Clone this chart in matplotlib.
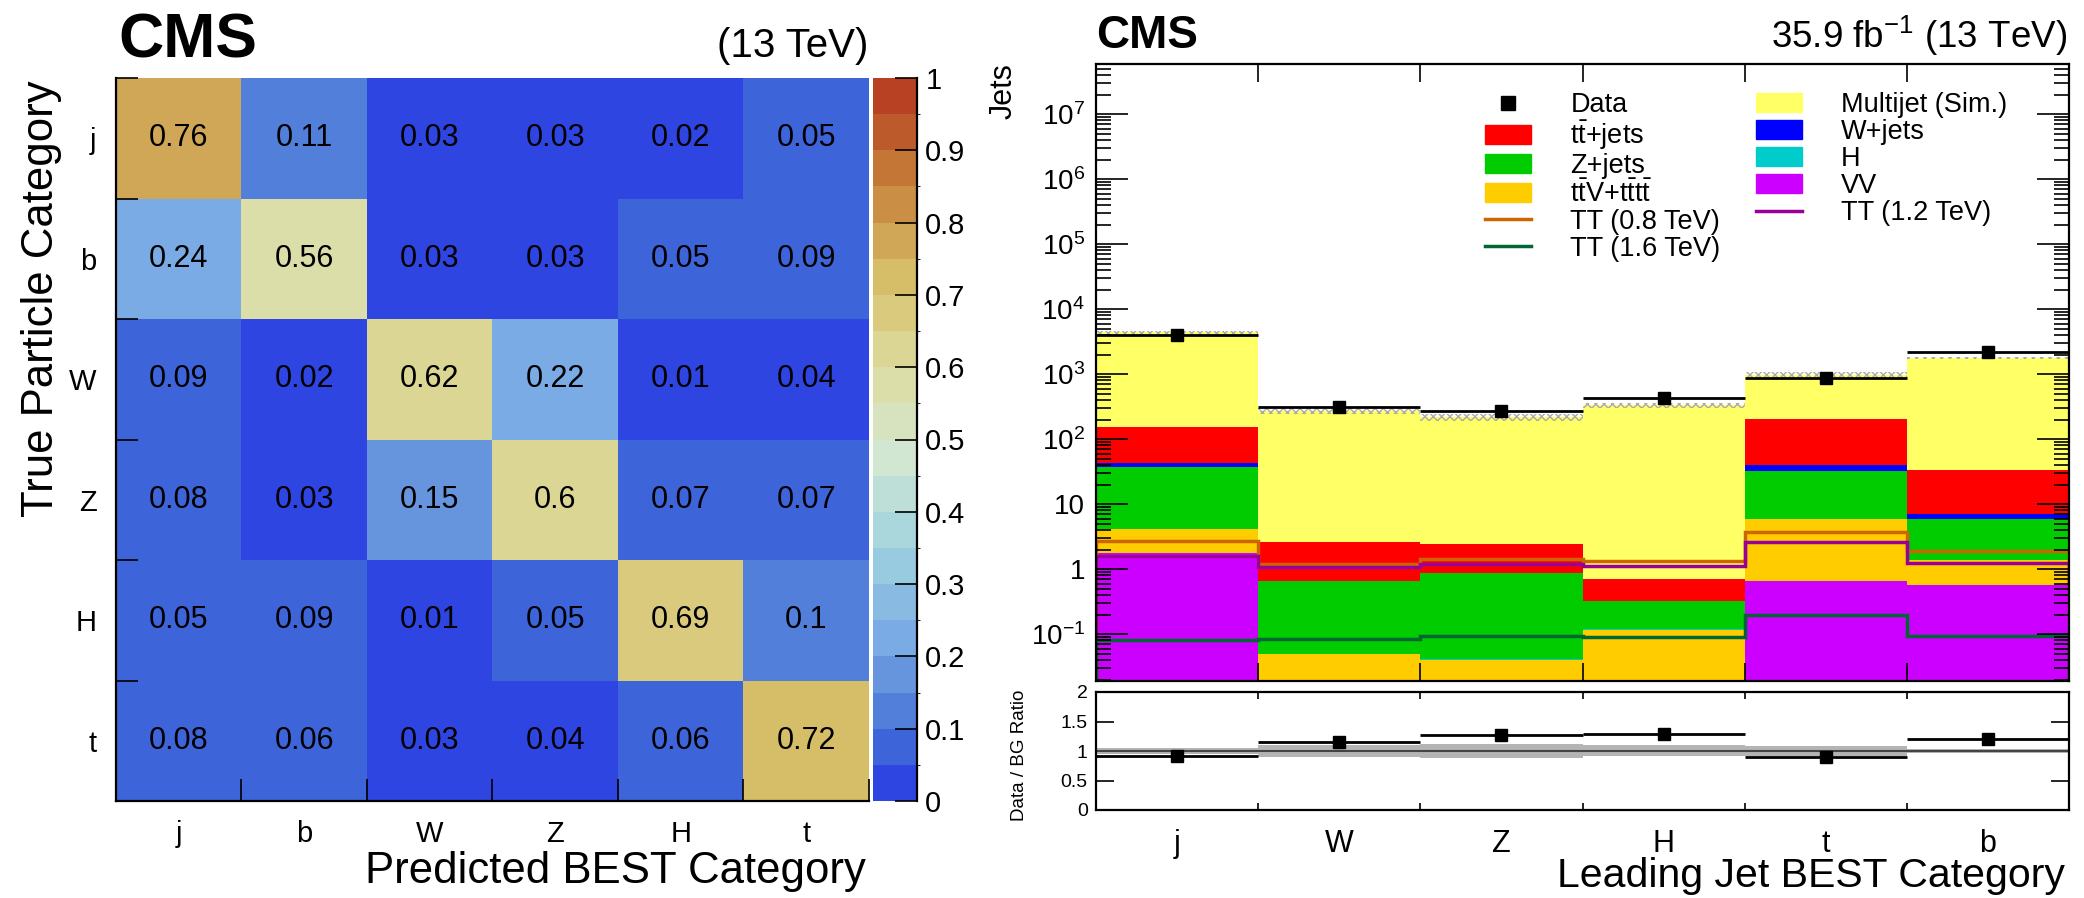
import numpy as np
import matplotlib
matplotlib.use('Agg')
import matplotlib.pyplot as plt
from matplotlib.colors import LinearSegmentedColormap, ListedColormap, BoundaryNorm
from matplotlib.patches import Patch
from matplotlib.lines import Line2D
from matplotlib.ticker import LogLocator, FuncFormatter, NullFormatter, FixedLocator

plt.rcParams['font.family'] = ['Liberation Sans', 'DejaVu Sans']
plt.rcParams['mathtext.fontset'] = 'custom'
plt.rcParams['mathtext.rm'] = 'Liberation Sans'
plt.rcParams['mathtext.it'] = 'Liberation Sans:italic'
plt.rcParams['mathtext.bf'] = 'Liberation Sans:bold'

# Confusion matrix: rows = true category, columns = predicted category
categories = ['j', 'b', 'W', 'Z', 'H', 't']
confusion = np.array([
    [0.76, 0.11, 0.03, 0.03, 0.02, 0.05],
    [0.24, 0.56, 0.03, 0.03, 0.05, 0.09],
    [0.09, 0.02, 0.62, 0.22, 0.01, 0.04],
    [0.08, 0.03, 0.15, 0.6, 0.07, 0.07],
    [0.05, 0.09, 0.01, 0.05, 0.69, 0.1],
    [0.08, 0.06, 0.03, 0.04, 0.06, 0.72],
])

# Leading jet category yields
jet_cats = ['j', 'W', 'Z', 'H', 't', 'b']
vv = [1.76, 0.005, 0.005, 0.005, 0.66, 0.57]
ttv = [2.34, 0.044, 0.035, 0.112, 5.14, 0.82]
higgs = [0.01, 0.001, 0.001, 0.001, 0.01, 0.01]
zjets = [32.9, 0.616, 0.825, 0.208, 26.2, 4.51]
wjets = [6.0, 0.001, 0.001, 0.001, 8.0, 1.1]
ttjets = [112, 1.94, 1.57, 0.39, 165, 26]
multijet = [4215, 272, 212.6, 330, 770, 1767]
data = [3990, 316, 273, 426, 868, 2178]
tt08 = [2.73, 1.22, 1.43, 1.31, 3.7, 1.9]
tt12 = [1.57, 1.09, 1.22, 1.12, 2.6, 1.24]
tt16 = [0.082, 0.085, 0.092, 0.09, 0.195, 0.092]
unc_lo = [0.95, 0.90, 0.886, 0.914, 0.914, 0.965]
unc_hi = [1.046, 1.10, 1.126, 1.10, 1.09, 1.035]

fig = plt.figure(figsize=(20.84, 8.98), dpi=100)
W, H = 2084.0, 898.0


def box(x0, y0, x1, y1):
    return [x0 / W, 1 - y1 / H, (x1 - x0) / W, (y1 - y0) / H]


# ---------------- left: confusion matrix ----------------
stops = np.array([
    [31, 40, 234], [71, 117, 214], [123, 171, 228], [160, 211, 222],
    [210, 231, 210], [222, 220, 160], [214, 190, 105], [199, 132, 60],
    [183, 65, 34]]) / 255.0
palette = LinearSegmentedColormap.from_list('lighttemp', stops)
levels = np.arange(21) / 20
cmap = ListedColormap(palette(levels[1:]))
norm = BoundaryNorm(levels, cmap.N)

ax1 = fig.add_axes(box(116, 78, 869, 801))
mesh = ax1.pcolormesh(np.arange(7), np.arange(7), confusion, cmap=cmap, norm=norm)
ax1.set_xlim(0, 6)
ax1.set_ylim(6, 0)
for i in range(6):
    for j in range(6):
        ax1.text(j + 0.5, i + 0.5, '%g' % confusion[i, j], ha='center', va='center',
                 fontsize=22, color='black')
ax1.set_xticks(np.arange(7))
ax1.set_yticks(np.arange(7))
ax1.set_xticklabels([])
ax1.set_yticklabels([])
ax1.set_xticks(np.arange(6) + 0.5, minor=True)
ax1.set_yticks(np.arange(6) + 0.5, minor=True)
ax1.set_xticklabels(categories, minor=True, fontsize=21)
ax1.set_yticklabels(categories, minor=True, fontsize=21)
ax1.tick_params(which='major', direction='in', length=16, width=1.2)
ax1.tick_params(which='minor', length=0, pad=14)
ax1.spines['top'].set_visible(False)
ax1.spines['right'].set_visible(False)
ax1.spines['left'].set_linewidth(1.6)
ax1.spines['bottom'].set_linewidth(1.6)

cax = fig.add_axes(box(873, 78, 917, 801))
cbar = fig.colorbar(mesh, cax=cax, ticks=np.arange(11) / 10)
cbar.outline.set_visible(False)
cax.set_yticklabels(['%g' % t for t in np.arange(11) / 10])
cax.tick_params(direction='in', length=16, width=1.2, labelsize=21, pad=6)
cax.plot([1, 1], [0, 1], transform=cax.transAxes, color='black', lw=1.6, clip_on=False)

fig.text(118 / W, 1 - 58 / H, 'CMS', fontsize=45, fontweight='bold', ha='left', va='baseline')
fig.text(868 / W, 1 - 57 / H, '(13 TeV)', fontsize=29, ha='right', va='baseline')
fig.text(42 / W, 1 - 80 / H, 'True Particle Category', fontsize=31.5, rotation=90,
         ha='center', va='top')
fig.text(866 / W, 1 - 883 / H, 'Predicted BEST Category', fontsize=31.5, ha='right',
         va='baseline')

# ---------------- right: stacked yields + ratio ----------------
x = np.arange(6)
edges = np.arange(7)
ax2 = fig.add_axes(box(1096, 64, 2069, 681))
ax3 = fig.add_axes(box(1096, 692, 2069, 810))

stack = [
    (vv, '#cc00ff'), (ttv, '#ffcc00'), (higgs, '#00cccc'), (zjets, '#00cc00'),
    (wjets, '#0000ff'), (ttjets, '#ff0000'), (multijet, '#ffff66'),
]
bottom = np.zeros(6)
for vals, col in stack:
    ax2.bar(x, vals, bottom=bottom, width=1.0, align='edge', color=col, linewidth=0)
    bottom = bottom + np.array(vals)
total = bottom

ax2.stairs(tt08, edges, color='#cc6600', lw=2.5)
ax2.stairs(tt12, edges, color='#990099', lw=2.5)
ax2.stairs(tt16, edges, color='#006633', lw=2.5)

lo = total * np.array(unc_lo)
hi = total * np.array(unc_hi)
ax2.bar(x, hi - lo, bottom=lo, width=1.0, align='edge', fill=False, hatch='xxxx',
        edgecolor='#aaaaaa', linewidth=0)

data = np.array(data, dtype=float)
ax2.errorbar(x + 0.5, data, xerr=0.5, yerr=np.sqrt(data), fmt='s', color='black',
             ms=9, elinewidth=2, capsize=0)

ax2.set_yscale('log')
ax2.set_xlim(0, 6)
ax2.set_ylim(0.019, 5.9e7)


def log_label(v, pos):
    e = int(round(np.log10(v)))
    if e == 0:
        return '1'
    if e == 1:
        return '10'
    return r'$10^{%d}$' % e


ax2.yaxis.set_major_locator(FixedLocator([10.0 ** e for e in range(-1, 8)]))
ax2.yaxis.set_major_formatter(FuncFormatter(log_label))
ax2.yaxis.set_minor_locator(LogLocator(base=10, subs=np.arange(2, 10), numticks=30))
ax2.yaxis.set_minor_formatter(NullFormatter())
ax2.set_xticks(edges)
ax2.set_xticklabels([])
ax2.tick_params(axis='y', which='major', direction='in', length=23, width=1.2,
                right=True, labelsize=20, pad=8)
ax2.tick_params(axis='y', which='minor', direction='in', length=11, width=1.2, right=True)
ax2.tick_params(axis='x', which='major', direction='in', length=13, width=1.2, top=True)
for s in ax2.spines.values():
    s.set_linewidth(1.6)

handles = [
    Line2D([], [], marker='s', color='black', ls='none', ms=10),
    Patch(color='#ff0000'), Patch(color='#00cc00'), Patch(color='#ffcc00'),
    Line2D([], [], color='#cc6600', lw=2.5), Line2D([], [], color='#006633', lw=2.5),
    Patch(color='#ffff66'), Patch(color='#0000ff'), Patch(color='#00cccc'),
    Patch(color='#cc00ff'), Line2D([], [], color='#990099', lw=2.5),
]
labels = [
    'Data', r't$\mathrm{\bar{t}}$+jets', 'Z+jets',
    r't$\mathrm{\bar{t}}$V+t$\mathrm{\bar{t}}$t$\mathrm{\bar{t}}$',
    'TT (0.8 TeV)', 'TT (1.6 TeV)',
    'Multijet (Sim.)', 'W+jets', 'H', 'VV', 'TT (1.2 TeV)',
]
ax2.legend(handles, labels, ncol=2, loc='upper left', bbox_to_anchor=(1485 / W, 1 - 92 / H),
           bbox_transform=fig.transFigure, frameon=False, fontsize=19.5, borderpad=0,
           borderaxespad=0, handlelength=1.7, handleheight=0.7, handletextpad=1.45,
           labelspacing=0.04, columnspacing=1.3)

# ratio panel
ratio = data / total
ax3.bar(x, np.array(unc_hi) - np.array(unc_lo), bottom=unc_lo, width=1.0, align='edge',
        color='#b4b4b4', linewidth=0)
ax3.axhline(1.0, color='#444444', lw=1.5)
ax3.errorbar(x + 0.5, ratio, xerr=0.5, yerr=np.sqrt(data) / total, fmt='s',
             color='black', ms=9, elinewidth=2, capsize=0)
ax3.set_xlim(0, 6)
ax3.set_ylim(0, 2)
ax3.set_yticks([0, 0.5, 1, 1.5, 2])
ax3.set_yticklabels(['0', '0.5', '1', '1.5', '2'])
ax3.set_xticks(edges)
ax3.set_xticklabels([])
ax3.set_xticks(x + 0.5, minor=True)
ax3.set_xticklabels(jet_cats, minor=True, fontsize=22)
ax3.tick_params(axis='x', which='minor', length=0, pad=14)
ax3.tick_params(axis='x', which='major', direction='in', length=5, width=1.2, top=True)
ax3.tick_params(axis='y', direction='in', length=13, width=1.2, right=True, labelsize=14,
                pad=6)
for s in ax3.spines.values():
    s.set_linewidth(1.6)

fig.text(1096 / W, 1 - 48 / H, 'CMS', fontsize=33, fontweight='bold', ha='left',
         va='baseline')
fig.text(2067 / W, 1 - 48 / H, r'35.9 fb$^{-1}$ (13 TeV)', fontsize=26.5, ha='right',
         va='baseline')
fig.text(1004 / W, 1 - 63 / H, 'Jets', fontsize=22, rotation=90, ha='center', va='top')
fig.text(1020 / W, 1 - 690 / H, 'Data / BG Ratio', fontsize=13.5, rotation=90,
         ha='center', va='top')
fig.text(2065 / W, 1 - 887 / H, 'Leading Jet BEST Category', fontsize=29.5, ha='right',
         va='baseline')

fig.savefig('out.png', dpi=100)
